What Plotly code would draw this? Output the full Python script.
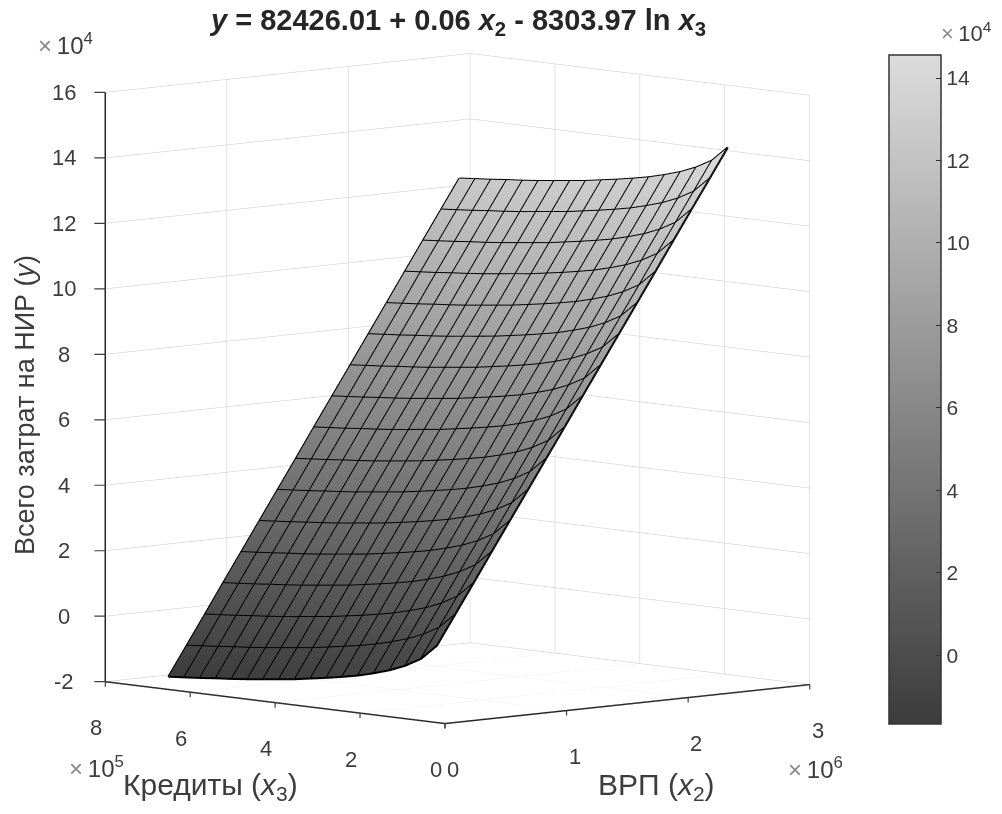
import plotly.graph_objects as go

# Kredity (x3) grid values, VRP (x2) grid values
x3_values = [39000, 76200, 113400, 150600, 187800, 225000, 262200, 299400, 336600,
             373800, 411000, 448200, 485400, 522600, 559800, 597000, 634200, 671400]
x2_values = [70500, 220000, 369500, 519000, 668500, 818000, 967500, 1117000, 1266500,
             1416000, 1565500, 1715000, 1864500, 2014000, 2163500, 2313000, 2462500]
# one row per x2 value, one column per x3 value
y_values = [
 [2900,-1700,-4400,-6400,-7900,-9200,-10200,-11100,-11900,-12700,-13300,-13900,-14500,-15000,-15400,-15900,-16300,-16700],
 [11800,7200,4500,2500,1000,-300,-1300,-2200,-3000,-3800,-4400,-5000,-5600,-6100,-6500,-7000,-7400,-7800],
 [20700,16100,13400,11400,9900,8600,7600,6700,5900,5100,4500,3900,3300,2800,2400,1900,1500,1100],
 [29700,25100,22400,20400,18900,17600,16600,15700,14900,14100,13500,12900,12300,11800,11400,10900,10500,10100],
 [38600,34000,31300,29300,27800,26500,25500,24600,23800,23000,22400,21800,21200,20700,20300,19800,19400,19000],
 [47500,42900,40200,38200,36700,35400,34400,33500,32700,31900,31300,30700,30100,29600,29200,28700,28300,27900],
 [56400,51800,49100,47100,45600,44300,43300,42400,41600,40800,40200,39600,39000,38500,38100,37600,37200,36800],
 [65300,60700,58000,56000,54500,53200,52200,51300,50500,49700,49100,48500,47900,47400,47000,46500,46100,45700],
 [74300,69700,67000,65000,63500,62200,61200,60300,59500,58700,58100,57500,56900,56400,56000,55500,55100,54700],
 [83200,78600,75900,73900,72400,71100,70100,69200,68400,67600,67000,66400,65800,65300,64900,64400,64000,63600],
 [92100,87500,84800,82800,81300,80000,79000,78100,77300,76500,75900,75300,74700,74200,73800,73300,72900,72500],
 [101000,96400,93700,91700,90200,88900,87900,87000,86200,85400,84800,84200,83600,83100,82700,82200,81800,81400],
 [109900,105300,102600,100600,99100,97800,96800,95900,95100,94300,93700,93100,92500,92000,91600,91100,90700,90300],
 [118900,114300,111600,109600,108100,106800,105800,104900,104100,103300,102700,102100,101500,101000,100600,100100,99700,99300],
 [127800,123200,120500,118500,117000,115700,114700,113800,113000,112200,111600,111000,110400,109900,109500,109000,108600,108200],
 [136700,132100,129400,127400,125900,124600,123600,122700,121900,121100,120500,119900,119300,118800,118400,117900,117500,117100],
 [145600,141000,138300,136300,134800,133500,132500,131600,130800,130000,129400,128800,128200,127700,127300,126800,126400,126000],
]
x2_ticks = [0, 1000000, 2000000, 3000000]
x2_labels = ["0", "1", "2", "3"]
x3_ticks = [0, 200000, 400000, 600000, 800000]
x3_labels = ["0", "2", "4", "6", "8"]
y_ticks = [-20000, 0, 20000, 40000, 60000, 80000, 100000, 120000, 140000, 160000]
y_labels = ["-2", "0", "2", "4", "6", "8", "10", "12", "14", "16"]
cb_ticks = [0, 20000, 40000, 60000, 80000, 100000, 120000, 140000]
cb_labels = ["0", "2", "4", "6", "8", "10", "12", "14"]

FONT = "Liberation Sans"
TXT = "#3c3c3c"
OFF = 8              # the page body has an 8px margin
W, H = 1002 - OFF, 814 - OFF
R = 1.245
K = 1.31
X3_EDGE = 799900     # just inside the axis end, so scene notes stay visible

def px(x):
    return (x - OFF) / W

def py(y):
    return 1 - (y - OFF) / H

def axis(tv, rng):
    return dict(range=rng, tickvals=tv, title=dict(text=""), showticklabels=False,
                showbackground=False, showgrid=True, gridcolor="#c8c8c8", gridwidth=1,
                showline=True, linecolor="#262626", linewidth=3, ticks="",
                zeroline=False, showspikes=False)

z_grid = [list(col) for col in zip(*y_values)]
fig = go.Figure(go.Surface(
    x=x2_values, y=x3_values, z=z_grid,
    cmin=-16700, cmax=145600,
    colorscale=[[0, "#3c3c3c"], [1, "#dcdcdc"]],
    lighting=dict(ambient=1, diffuse=0, specular=0, roughness=1, fresnel=0),
    hoverinfo="skip",
    contours=dict(z=dict(show=False, highlight=False),
                  x=dict(highlight=False), y=dict(highlight=False)),
    colorbar=dict(x=px(889), xanchor="left", xpad=0, ypad=0, y=py(389.5), yanchor="middle",
                  len=669, lenmode="pixels", thickness=52, thicknessmode="pixels",
                  outlinecolor="#333333", outlinewidth=1.5, ticks="inside", ticklen=5,
                  tickcolor="#333333", tickvals=cb_ticks, ticktext=cb_labels, tickprefix="\u00a0\u00a0",
                  tickfont=dict(family=FONT, size=21, color=TXT)),
))

# mesh lines of the surface, from the same grid
mesh = dict(mode="lines", hoverinfo="skip", showlegend=False, line=dict(color="#000000", width=4))
for row, v2 in zip(y_values, x2_values):
    fig.add_trace(go.Scatter3d(x=[v2] * len(x3_values), y=x3_values, z=row, **mesh))
for i, v3 in enumerate(x3_values):
    fig.add_trace(go.Scatter3d(x=x2_values, y=[v3] * len(x2_values), z=[r[i] for r in y_values], **mesh))

def ann(x, y, text, size=18, **kw):
    return dict(x=px(x), y=py(y), xref="paper", yref="paper", text=text, showarrow=False,
                xanchor="center", yanchor="middle",
                font=dict(family=FONT, size=size, color=kw.pop("color", TXT)), **kw)

def tick_note(x, y, z, ax, ay):
    return dict(x=x, y=y, z=z, text=" ", showarrow=True, arrowhead=0, arrowwidth=1.2,
                arrowcolor="#404040", ax=ax, ay=ay, standoff=0)

def label_note(x, y, z, text, dx, dy):
    return dict(x=x, y=y, z=z, text=text, showarrow=False, xshift=dx, yshift=dy,
                font=dict(family=FONT, size=22, color=TXT))

scene_notes = []
for v, t in zip(x2_ticks, x2_labels):
    scene_notes += [tick_note(v, 0, -20000, 0, 15), label_note(v, 0, -20000, t, 8, -46)]
for v, t in zip(x3_ticks, x3_labels):
    vv = min(v, X3_EDGE)
    scene_notes += [tick_note(0, vv, -20000, 0, 15), label_note(0, vv, -20000, t, -9, -46)]
for v, t in zip(y_ticks, y_labels):
    scene_notes += [tick_note(0, X3_EDGE, v, -14, 0), label_note(0, X3_EDGE, v, t, -41, 0)]

TIMES = '<span style="color:#8a8a8a">×\u2009</span>'
fig.update_layout(
    width=W, height=H, margin=dict(l=0, r=0, t=0, b=0), paper_bgcolor="white",
    showlegend=False,
    scene=dict(
        domain=dict(x=[0, px(907)], y=[py(769), py(8)]),
        xaxis=axis(x2_ticks, [0, 3000000]),
        yaxis=axis(x3_ticks, [0, 800000]),
        zaxis=axis(y_ticks, [-20000, 160000]),
        aspectmode="manual", aspectratio=dict(x=K, y=K, z=1.19*K),
        camera=dict(projection=dict(type="orthographic"),
                    eye=dict(x=-0.676*R, y=-0.726*R, z=0.1147*R),
                    up=dict(x=0, y=0, z=1), center=dict(x=0, y=0, z=0)),
        annotations=scene_notes),
    annotations=[
        ann(457, 22, "<b><i>y</i> = 82426.01 + 0.06 <i>x</i><sub>2</sub> - 8303.97 ln <i>x</i><sub>3</sub></b>", 29, color="#262626"),
        ann(25, 405, "Всего затрат на НИР (<i>y</i>)", 27, textangle=-90),
        ann(210, 786, "Кредиты (<i>x</i><sub>3</sub>)", 30),
        ann(656, 786, "ВРП (<i>x</i><sub>2</sub>)", 30),
        ann(65, 44, TIMES + "10<sup>4</sup>", 24),
        ann(966, 32, TIMES + "10<sup>4</sup>", 22),
        ann(96, 767, TIMES + "10<sup>5</sup>", 24),
        ann(815, 768, TIMES + "10<sup>6</sup>", 24),
    ],
)
fig.write_html("out.html")
